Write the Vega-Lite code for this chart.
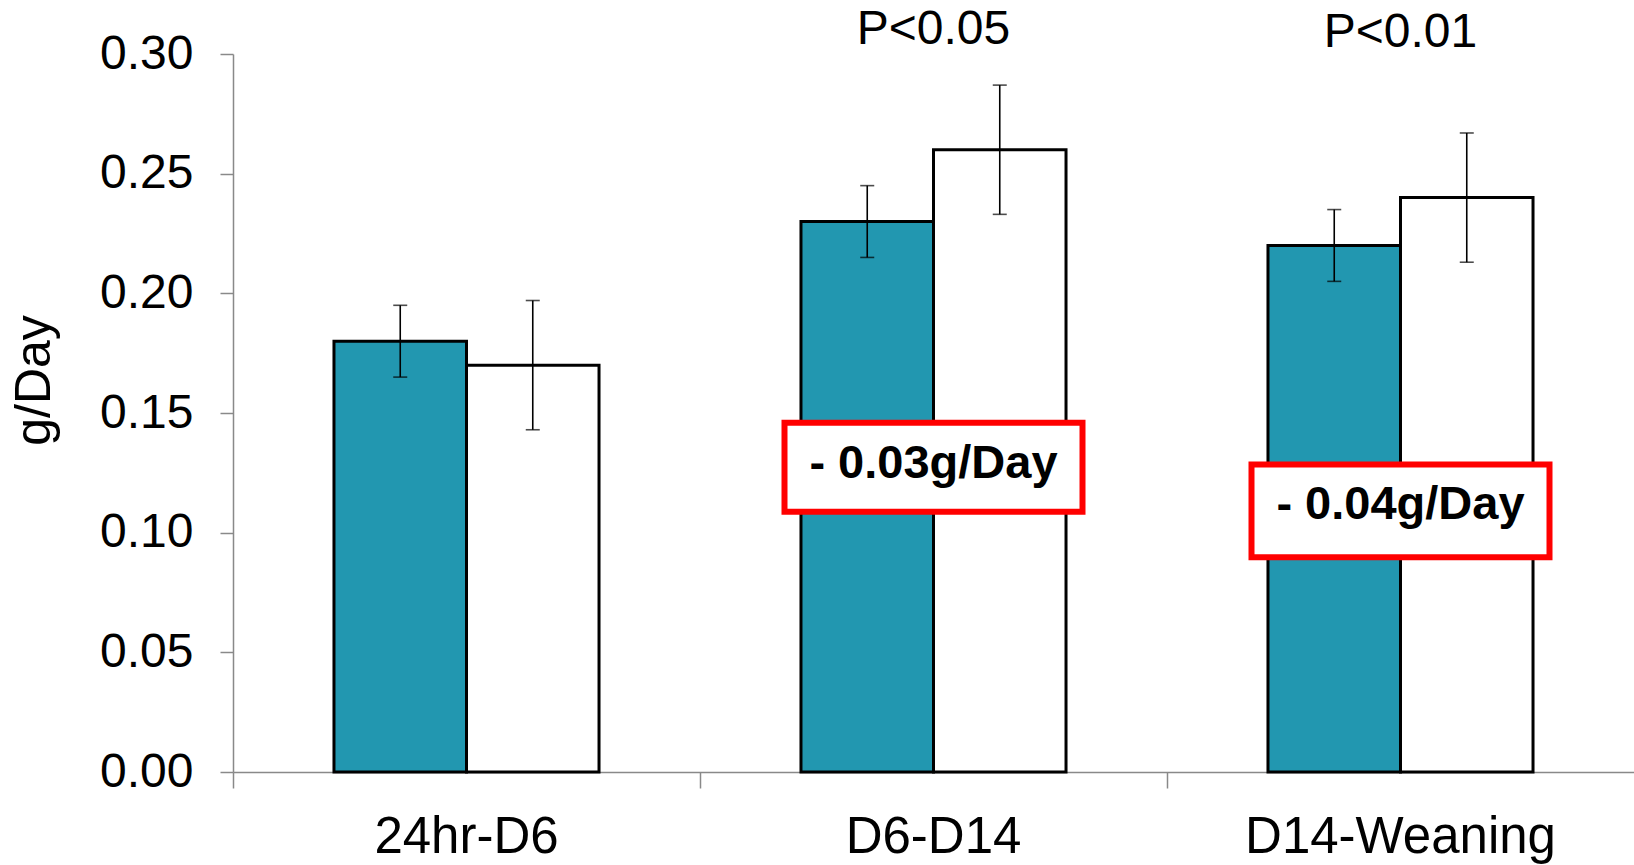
{
  "$schema": "https://vega.github.io/schema/vega-lite/v6.json",
  "width": 1401,
  "height": 718,
  "autosize": {"type": "none"},
  "padding": {"left": 233, "top": 54, "right": 0, "bottom": 93},
  "background": "white",
  "config": {"font": "Liberation Sans", "view": {"stroke": null}},
  "datasets": {
    "bars": [
      {"cat": "24hr-D6", "group": "Series 1", "value": 0.18, "lo": 0.165, "hi": 0.195},
      {"cat": "24hr-D6", "group": "Series 2", "value": 0.17, "lo": 0.143, "hi": 0.197},
      {"cat": "D6-D14", "group": "Series 1", "value": 0.23, "lo": 0.215, "hi": 0.245},
      {"cat": "D6-D14", "group": "Series 2", "value": 0.26, "lo": 0.233, "hi": 0.287},
      {"cat": "D14-Weaning", "group": "Series 1", "value": 0.22, "lo": 0.205, "hi": 0.235},
      {"cat": "D14-Weaning", "group": "Series 2", "value": 0.24, "lo": 0.213, "hi": 0.267}
    ],
    "pvals": [
      {"cat": "D6-D14", "label": "P<0.05", "y": 0.310},
      {"cat": "D14-Weaning", "label": "P<0.01", "y": 0.3088}
    ],
    "boxes": [
      {"cat": "D6-D14", "label": "- 0.03g/Day", "top": 0.1459, "bottom": 0.1087, "ty": 0.1288},
      {"cat": "D14-Weaning", "label": "- 0.04g/Day", "top": 0.1285, "bottom": 0.0897, "ty": 0.1117}
    ]
  },
  "encoding": {
    "x": {
      "field": "cat",
      "type": "nominal",
      "sort": ["24hr-D6", "D6-D14", "D14-Weaning"],
      "scale": {"domain": ["24hr-D6", "D6-D14", "D14-Weaning"], "paddingInner": 0, "paddingOuter": 0},
      "axis": {
        "title": null,
        "labelAngle": 0,
        "bandPosition": 0,
        "labelOffset": 0,
        "labelAlign": "center",
        "labelLimit": 500,
        "labelFontSize": 51,
        "labelColor": "black",
        "labelPadding": 24,
        "tickSize": 16,
        "tickColor": "#898989",
        "tickWidth": 1.5,
        "domainColor": "#898989",
        "domainWidth": 1.5,
        "grid": false
      }
    }
  },
  "layer": [
    {
      "data": {"name": "bars"},
      "mark": {"type": "bar", "stroke": "black", "strokeWidth": 3},
      "encoding": {
        "xOffset": {"field": "group", "type": "nominal", "scale": {"domain": ["Series 1", "Series 2"], "paddingInner": 0, "paddingOuter": 0.762}},
        "y": {
          "field": "value",
          "type": "quantitative",
          "title": "g/Day",
          "scale": {"domain": [0, 0.3], "nice": false},
          "axis": {
            "values": [0, 0.05, 0.1, 0.15, 0.2, 0.25, 0.3],
            "format": ".2f",
            "grid": false,
            "labelFontSize": 48,
            "labelColor": "black",
            "labelPadding": 27,
            "tickSize": 13,
            "tickColor": "#898989",
            "tickWidth": 1.5,
            "domainColor": "#898989",
            "domainWidth": 1.5,
            "titleFontSize": 50,
            "titleFontWeight": "normal",
            "titleColor": "black",
            "titlePadding": 40,
            "titleY": 326
          }
        },
        "color": {"field": "group", "type": "nominal", "scale": {"domain": ["Series 1", "Series 2"], "range": ["#2297B0", "#FFFFFF"]}, "legend": null}
      }
    },
    {
      "data": {"name": "bars"},
      "mark": {"type": "rule", "color": "black", "strokeWidth": 1.6},
      "encoding": {
        "xOffset": {"field": "group", "type": "nominal"},
        "y": {"field": "lo", "type": "quantitative", "title": "g/Day"},
        "y2": {"field": "hi"}
      }
    },
    {
      "data": {"name": "bars"},
      "mark": {"type": "tick", "orient": "horizontal", "color": "black", "size": 14, "thickness": 1.6},
      "encoding": {
        "xOffset": {"field": "group", "type": "nominal"},
        "y": {"field": "lo", "type": "quantitative", "title": "g/Day"}
      }
    },
    {
      "data": {"name": "bars"},
      "mark": {"type": "tick", "orient": "horizontal", "color": "black", "size": 14, "thickness": 1.6},
      "encoding": {
        "xOffset": {"field": "group", "type": "nominal"},
        "y": {"field": "hi", "type": "quantitative", "title": "g/Day"}
      }
    },
    {
      "data": {"name": "boxes"},
      "mark": {"type": "bar", "width": 298, "fill": "white", "stroke": "#FF0000", "strokeWidth": 6},
      "encoding": {
        "y": {"field": "top", "type": "quantitative", "title": "g/Day"},
        "y2": {"field": "bottom"}
      }
    },
    {
      "data": {"name": "boxes"},
      "mark": {"type": "text", "fontSize": 47, "fontWeight": "bold", "color": "black", "baseline": "middle", "align": "center"},
      "encoding": {
        "y": {"field": "ty", "type": "quantitative", "title": "g/Day"},
        "text": {"field": "label"}
      }
    },
    {
      "data": {"name": "pvals"},
      "mark": {"type": "text", "fontSize": 48, "color": "black", "baseline": "middle", "align": "center"},
      "encoding": {
        "y": {"field": "y", "type": "quantitative", "title": "g/Day"},
        "text": {"field": "label"}
      }
    }
  ]
}
